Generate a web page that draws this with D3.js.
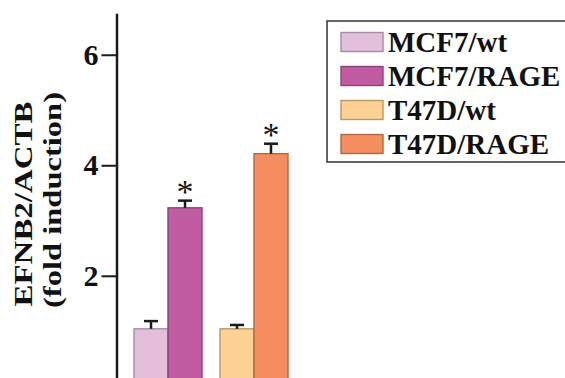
<!DOCTYPE html>
<html>
<head>
<meta charset="utf-8">
<script src="https://cdn.jsdelivr.net/npm/d3@7"></script>
<style>
  body { margin: 0; background: #fff; }
  svg { display: block; font-family: "Liberation Serif", "Times New Roman", serif; font-weight: bold; }
</style>
</head>
<body>
<div id="chart"></div>
<script>
var groups = ['MCF7', 'T47D'];
var conditions = ['wt', 'RAGE'];
var series = ['MCF7/wt', 'MCF7/RAGE', 'T47D/wt', 'T47D/RAGE'];
var values = [1.04, 3.23, 1.04, 4.21];
var errors = [0.14, 0.13, 0.07, 0.18];
var significant = [false, true, false, true];
var colors = ['#e3bfdc', '#c15ca3', '#fdd193', '#f48e5e'];
var y_ticks = [2, 4, 6];

var chart_width = 565;
var chart_height = 378;

var svg = d3.select('#chart')
    .append('svg')
    .attr('width', chart_width)
    .attr('height', chart_height)

var y_scale = d3.scaleLinear()
    .domain([0, 6.75])
    .range([386.3, 13.3])

var x0 = d3.scaleBand()
    .domain(groups)
    .range([134, 288])
    .paddingInner(0.209)

var x1 = d3.scaleBand()
    .domain(conditions)
    .range([0, x0.bandwidth()])

var data = series.map(function (s, i) {
    var parts = s.split('/');
    return { name: s, group: parts[0], cond: parts[1], value: values[i], err: errors[i], sig: significant[i], color: colors[i] };
})

function cx(d) { return x0(d.group) + x1(d.cond) + x1.bandwidth() / 2 }

// bars
svg.selectAll('rect.bar')
    .data(data)
    .enter()
    .append('rect')
    .attr('class', 'bar')
    .attr('x', function (d) { return x0(d.group) + x1(d.cond) })
    .attr('y', function (d) { return y_scale(d.value) })
    .attr('width', x1.bandwidth())
    .attr('height', function (d) { return y_scale(0) - y_scale(d.value) })
    .attr('fill', function (d) { return d.color })
    .attr('stroke', function (d) { return d3.color(d.color).darker(0.9) })
    .attr('stroke-width', 1.4)

// error bars
var err = svg.selectAll('g.err')
    .data(data)
    .enter()
    .append('g')
    .attr('class', 'err')
    .attr('stroke', '#1a1a1a')
    .attr('stroke-width', 2.5)

err.append('line')
    .attr('x1', cx)
    .attr('x2', cx)
    .attr('y1', function (d) { return y_scale(d.value) })
    .attr('y2', function (d) { return y_scale(d.value + d.err) })

err.append('line')
    .attr('x1', function (d) { return cx(d) - 7 })
    .attr('x2', function (d) { return cx(d) + 7 })
    .attr('y1', function (d) { return y_scale(d.value + d.err) })
    .attr('y2', function (d) { return y_scale(d.value + d.err) })

// asterisks (centre about 12px above the error cap)
svg.selectAll('text.star')
    .data(data.filter(function (d) { return d.sig }))
    .enter()
    .append('text')
    .attr('class', 'star')
    .attr('x', cx)
    .attr('y', function (d) { return y_scale(d.value + d.err) - 12 })
    .attr('text-anchor', 'middle')
    .attr('font-family', 'Liberation Serif, serif')
    .attr('font-weight', 'normal')
    .attr('font-size', 34)
    .attr('dy', '0.42em')
    .attr('fill', '#111')
    .text('*')

// y axis
var y_axis = d3.axisLeft(y_scale)
    .tickValues(y_ticks)
    .tickSize(15)
    .tickSizeOuter(0)
    .tickPadding(3)
    .tickFormat(d3.format('d'))

var ag = svg.append('g')
    .attr('transform', 'translate(116.5,0)')
    .call(y_axis)

ag.select('.domain').attr('stroke', '#1a1a1a').attr('stroke-width', 2.5)
ag.selectAll('.tick line').attr('stroke', '#1a1a1a').attr('stroke-width', 2)
ag.selectAll('.tick text')
    .attr('fill', '#111')
    .attr('font-size', 30)
    .attr('font-family', 'Liberation Serif, serif')
    .attr('font-weight', 'bold')

// y label
svg.append('text')
    .attr('transform', 'translate(32,204) rotate(-90)')
    .attr('text-anchor', 'middle')
    .attr('font-size', 26)
    .attr('textLength', 205)
    .attr('lengthAdjust', 'spacingAndGlyphs')
    .attr('fill', '#111')
    .text('EFNB2/ACTB')

svg.append('text')
    .attr('transform', 'translate(61,200) rotate(-90)')
    .attr('text-anchor', 'middle')
    .attr('font-size', 26)
    .attr('textLength', 216)
    .attr('lengthAdjust', 'spacingAndGlyphs')
    .attr('fill', '#111')
    .text('(fold induction)')

// legend
var legend = svg.append('g')
    .attr('transform', 'translate(327,21)')

legend.append('rect')
    .attr('width', 250)
    .attr('height', 141)
    .attr('fill', 'none')
    .attr('stroke', '#333')
    .attr('stroke-width', 1.5)

var li = legend.selectAll('g.item')
    .data(data)
    .enter()
    .append('g')
    .attr('class', 'item')
    .attr('transform', function (d, i) { return 'translate(14,' + (11.5 + i * 34) + ')' })

li.append('rect')
    .attr('width', 42)
    .attr('height', 19)
    .attr('fill', function (d) { return d.color })
    .attr('stroke', function (d) { return d3.color(d.color).darker(0.9) })
    .attr('stroke-width', 1.4)

li.append('text')
    .attr('x', 47)
    .attr('y', 19.5)
    .attr('font-size', 29)
    .attr('fill', '#111')
    .text(function (d) { return d.name })
</script>
</body>
</html>
